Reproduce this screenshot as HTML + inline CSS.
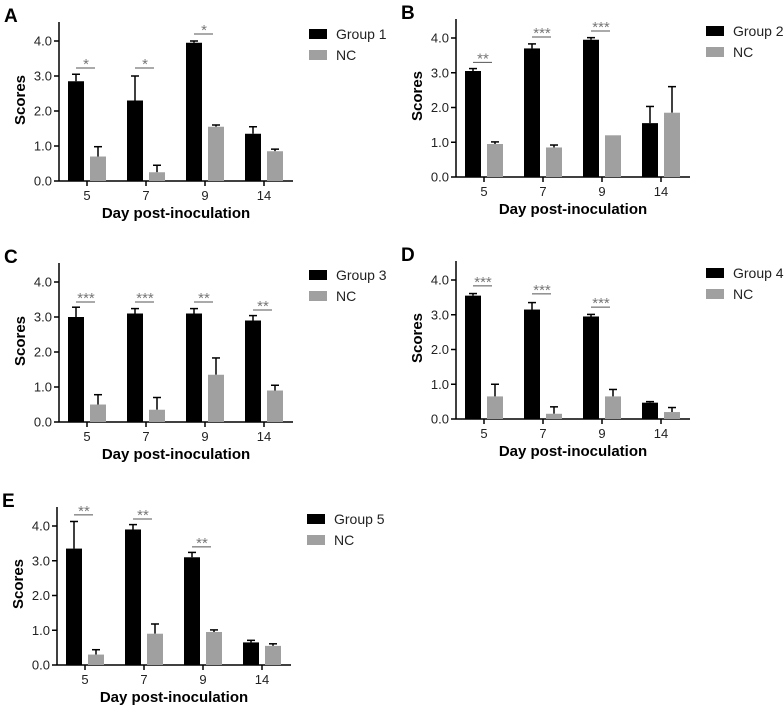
<!DOCTYPE html>
<html><head><meta charset="utf-8"><style>
body{margin:0;background:#fff;width:784px;height:710px;overflow:hidden}
svg text{font-family:"Liberation Sans",Arial,sans-serif}
</style></head><body>
<svg id="fig" width="784" height="710" viewBox="0 0 784 710"></svg>
<script>
const days=["5","7","9","14"];
const yTicks=[0,1,2,3,4];
const yTickLabels=["0.0","1.0","2.0","3.0","4.0"];
const letters=["A","B","C","D","E"];
const groupNames=["Group 1","Group 2","Group 3","Group 4","Group 5"];
const grpVals=[[2.85,2.3,3.95,1.35],[3.05,3.7,3.95,1.55],[3.0,3.1,3.1,2.9],[3.55,3.15,2.95,0.47],[3.35,3.9,3.1,0.65]];
const grpErr=[[0.2,0.7,0.05,0.2],[0.07,0.13,0.06,0.48],[0.28,0.14,0.14,0.14],[0.06,0.2,0.06,0.03],[0.78,0.14,0.14,0.06]];
const ncVals=[[0.7,0.25,1.55,0.85],[0.95,0.85,1.2,1.85],[0.5,0.35,1.35,0.9],[0.65,0.15,0.65,0.2],[0.3,0.9,0.95,0.55]];
const ncErr=[[0.28,0.2,0.05,0.06],[0.06,0.07,0,0.75],[0.28,0.35,0.48,0.15],[0.35,0.2,0.2,0.13],[0.14,0.28,0.06,0.06]];
const sigLabels=[["*","*","*",""],["**","***","***",""],["***","***","**","**"],["***","***","***",""],["**","**","**",""]];
const sigLevels=[[3.23,3.23,4.2,0],[3.3,4.03,4.2,0],[3.43,3.43,3.43,3.2],[3.83,3.6,3.22,0],[4.32,4.2,3.4,0]];
const layout=[{ax:59,y0:181,y4:41},{ax:456,y0:177,y4:38},{ax:59,y0:422,y4:282},{ax:456,y0:419,y4:280},{ax:57,y0:665,y4:526}];
const NS="http://www.w3.org/2000/svg";
const svg=document.getElementById("fig");
function mk(tag,attrs,parent,txt){const e=document.createElementNS(NS,tag);for(const k in attrs)e.setAttribute(k,attrs[k]);if(txt!==undefined)e.textContent=txt;parent.appendChild(e);return e;}
layout.forEach((L,p)=>{
  const g=mk("g",{},svg);
  
  
  const unit=(L.y0-L.y4)/4;
  const y=v=>L.y0-v*unit;
  const xc=i=>L.ax+28+i*59;
  const lt=mk("text",{x:L.ax-55,y:L.y4-19,"font-size":"19","font-weight":"bold",fill:"#000"},g,letters[p]);
  
  
  const ya=mk("line",{x1:L.ax,y1:L.y4-19,x2:L.ax,y2:L.y0,stroke:"#000","stroke-width":"1.5"},g);
  
  
  const xa=mk("line",{x1:L.ax,y1:L.y0,x2:L.ax+234,y2:L.y0,stroke:"#000","stroke-width":"1.5"},g);
  
  
  yTicks.forEach((t,k)=>{
    mk("line",{x1:L.ax-5,y1:y(t),x2:L.ax,y2:y(t),stroke:"#000","stroke-width":"1.5"},g);
    const tl=mk("text",{x:L.ax-7,y:y(t)+4.5,"font-size":"13","text-anchor":"end",fill:"#222"},g,yTickLabels[k]);
    
    
  });
  const yt=mk("text",{x:0,y:0,"font-size":"15","font-weight":"bold","text-anchor":"middle",transform:`translate(${L.ax-34},${L.y0-81}) rotate(-90)`},g,"Scores");
  
  
  const xt=mk("text",{x:L.ax+117,y:L.y0+37,"font-size":"15","font-weight":"bold","text-anchor":"middle"},g,"Day post-inoculation");
  
  
  days.forEach((d,i)=>{
    const c=xc(i);
    mk("line",{x1:c,y1:L.y0,x2:c,y2:L.y0+5,stroke:"#000","stroke-width":"1.5"},g);
    const dl=mk("text",{x:c,y:L.y0+19,"font-size":"13","text-anchor":"middle",fill:"#222"},g,d);
    
    
    [[grpVals,grpErr,-19,"#000"],[ncVals,ncErr,3,"#a0a0a0"]].forEach(([V,E,off,col],s)=>{
      const v=V[p][i],e=E[p][i];
      const bx=c+off;
      if(e>0){
        const el=mk("line",{x1:bx+8,y1:y(v),x2:bx+8,y2:y(v+e),stroke:"#000","stroke-width":"1.5"},g);
        
        
        mk("line",{x1:bx+4,y1:y(v+e),x2:bx+12,y2:y(v+e),stroke:"#000","stroke-width":"1.5"},g);
      }
      const r=mk("rect",{x:bx,y:y(v),width:16,height:L.y0-y(v),fill:col},g);
      
      
    });
    if(sigLabels[p][i]){
      const sy=y(sigLevels[p][i]);
      mk("line",{x1:c-11,y1:sy,x2:c+8,y2:sy,stroke:"#555","stroke-width":"1"},g);
      const st=mk("text",{x:c-1,y:sy+1,"font-size":"15","text-anchor":"middle",fill:"#777"},g,sigLabels[p][i]);
      
      
    }
  });
  const lx=L.ax+250, ly=L.y4-12;
  [[groupNames[p],"#000"],["NC","#a0a0a0"]].forEach(([n,col],k)=>{
    const sw=mk("rect",{x:lx,y:ly+k*21,width:18,height:10,fill:col},g);
    
    
    const lt2=mk("text",{x:lx+27,y:ly+k*21+10,"font-size":"14",fill:"#222"},g,n);
    
    
  });
});
</script>
</body></html>
